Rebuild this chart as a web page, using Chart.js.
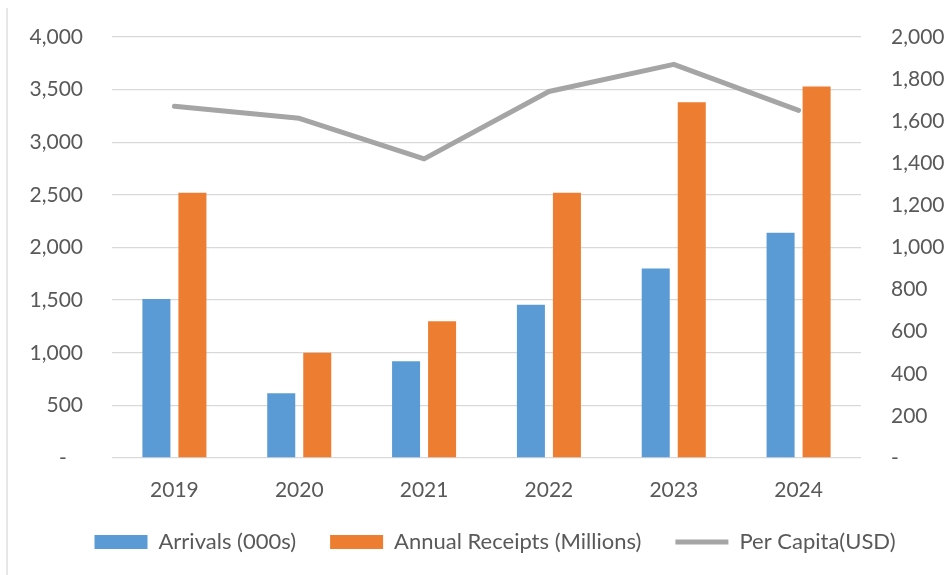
<!DOCTYPE html>
<html>
<head>
<meta charset="utf-8">
<script src="https://cdn.jsdelivr.net/npm/chart.js@4/dist/chart.umd.min.js"></script>
<style>
  html, body { margin: 0; padding: 0; background: #ffffff; }
  #wrap { width: 952px; height: 575px; }
</style>
</head>
<body>
<div id="wrap"><canvas id="c" width="952" height="575"></canvas></div>
<script>
const categories = ['2019', '2020', '2021', '2022', '2023', '2024'];
const arrivals = [1510, 615, 920, 1455, 1800, 2140];
const receipts = [2520, 1000, 1300, 2520, 3380, 3530];
const perCapita = [1671, 1614, 1421, 1741, 1870, 1651];
const seriesNames = ['Arrivals (000s)', 'Annual Receipts (Millions)', 'Per Capita(USD)'];

const FONT = 'Lato, "Open Sans", sans-serif';
const TEXT = '#595959';
const GRID = '#D9D9D9';

function fmt(v) {
  if (v === 0) return '-   ';
  return Number(v).toLocaleString('en-US');
}

const bgPlugin = {
  id: 'bg',
  afterLayout(chart) {
    if (chart.legend) { chart.legend.left += 38; }
  },
  beforeDraw(chart) {
    const ctx = chart.ctx;
    ctx.save();
    ctx.fillStyle = '#ffffff';
    ctx.fillRect(0, 0, chart.width, chart.height);
    ctx.strokeStyle = GRID;
    ctx.lineWidth = 1.3;
    ctx.beginPath();
    ctx.moveTo(7, 8);
    ctx.lineTo(7, chart.height);
    ctx.stroke();
    ctx.restore();
  }
};

new Chart(document.getElementById('c'), {
  type: 'bar',
  data: {
    labels: categories,
    datasets: [
      {
        label: seriesNames[0],
        data: arrivals,
        backgroundColor: '#5B9BD5',
        borderWidth: 0,
        yAxisID: 'y',
        order: 1,
        pointStyle: 'rect',
        categoryPercentage: 0.577,
        barPercentage: 0.778
      },
      {
        label: seriesNames[1],
        data: receipts,
        backgroundColor: '#ED7D31',
        borderWidth: 0,
        yAxisID: 'y',
        order: 1,
        pointStyle: 'rect',
        categoryPercentage: 0.577,
        barPercentage: 0.778
      },
      {
        type: 'line',
        label: seriesNames[2],
        data: perCapita,
        borderColor: '#A5A5A5',
        backgroundColor: '#A5A5A5',
        borderWidth: 5,
        pointRadius: 0,
        pointHoverRadius: 0,
        tension: 0,
        borderCapStyle: 'round',
        borderJoinStyle: 'round',
        yAxisID: 'y1',
        order: 0,
        pointStyle: 'line'
      }
    ]
  },
  options: {
    responsive: false,
    animation: false,
    devicePixelRatio: 1,
    layout: { padding: { top: 37, bottom: 12, left: 0, right: 0 } },
    plugins: {
      tooltip: { enabled: false },
      legend: {
        position: 'bottom',
        labels: {
          usePointStyle: true,
          pointStyleWidth: 53,
          boxHeight: 14,
          padding: 34,
          color: TEXT,
          font: { family: FONT, size: 22 },
          sort: (a, b) => a.datasetIndex - b.datasetIndex
        }
      }
    },
    scales: {
      x: {
        grid: { display: false, drawTicks: false },
        border: { display: false },
        ticks: { color: TEXT, font: { family: FONT, size: 21 }, padding: 20 },
        afterFit(s) { s.height = 39; }
      },
      y: {
        position: 'left',
        min: 0, max: 4000,
        grid: { color: GRID, lineWidth: 1.3, drawTicks: false },
        border: { display: false },
        ticks: { stepSize: 500, color: TEXT, font: { family: FONT, size: 21 }, padding: 29, callback: fmt },
        afterFit(s) { s.width = 112; s.paddingTop = 5; }
      },
      y1: {
        position: 'right',
        min: 0, max: 2000,
        grid: { drawOnChartArea: false, drawTicks: false },
        border: { display: false },
        ticks: { stepSize: 200, color: TEXT, font: { family: FONT, size: 21 }, padding: 30, callback: fmt },
        afterFit(s) { s.width = 91; s.paddingTop = 5; }
      }
    }
  },
  plugins: [bgPlugin]
});
</script>
</body>
</html>
